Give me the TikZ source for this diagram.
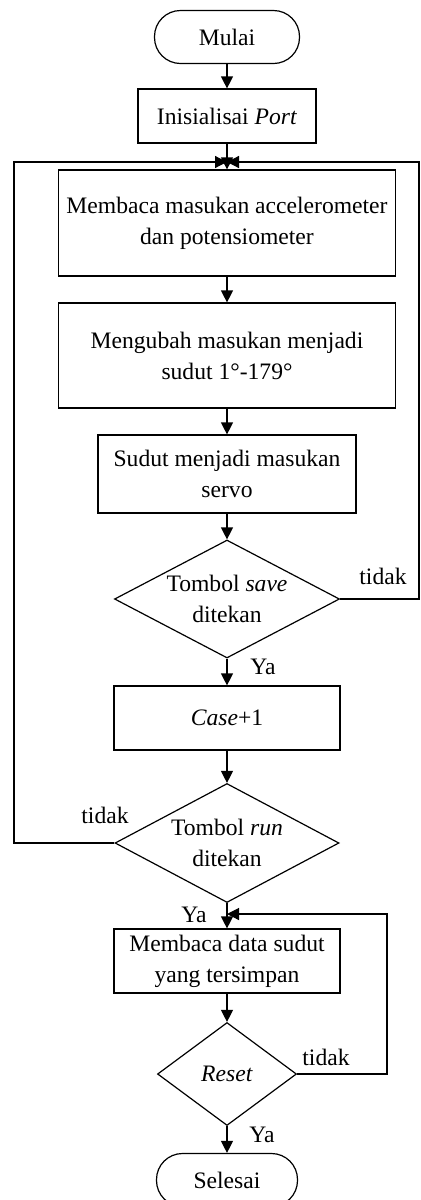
\documentclass[tikz,border=0pt]{standalone}
\usepackage{fontspec}
\setmainfont{Liberation Serif}
\usetikzlibrary{shapes.geometric,arrows.meta}

\tikzset{
  box/.style={draw, line width=0.6pt, align=center, inner sep=2pt},
  term/.style={box, rounded corners=13pt},
  choice/.style={draw, line width=0.6pt, diamond, aspect=1.9, align=center, inner sep=0pt},
  arr/.style={line width=0.6pt, -{Triangle[length=6pt,width=6pt]}},
  wire/.style={line width=0.6pt},
}

\begin{document}
\begin{tikzpicture}[x=0.5pt, y=-0.5pt, font=\fontsize{11.8}{15.5}\selectfont]

    % Fix the page to the size of the reference
    \useasboundingbox (0,0) rectangle (421,1200);

    % Define the steps of the flowchart
    \node[term, minimum width=72.5pt, minimum height=26.5pt] (mulai) at (227,37) {Mulai};
    \node[box, minimum width=89pt, minimum height=27pt] (init) at (227,116) {Inisialisai \textit{Port}};
    \node[box, minimum width=168.5pt, minimum height=53pt] (baca) at (227,223) {Membaca masukan accelerometer\\dan potensiometer};
    \node[box, minimum width=168.5pt, minimum height=52.5pt] (ubah) at (227,355.5) {Mengubah masukan menjadi\\sudut 1°-179°};
    \node[box, minimum width=129pt, minimum height=39pt] (servo) at (227,474) {Sudut menjadi masukan\\servo};
    \node[choice, minimum width=112.5pt, minimum height=59pt] (save) at (227,599) {Tombol \textit{save}\\ditekan};
    \node[box, minimum width=113pt, minimum height=32pt] (case) at (227,718) {\textit{Case}+1};
    \node[choice, minimum width=112pt, minimum height=59.5pt] (run) at (227,843) {Tombol \textit{run}\\ditekan};
    \node[box, minimum width=113pt, minimum height=32pt] (data) at (227,961) {Membaca data sudut\\yang tersimpan};
    \node[choice, aspect=1.35, minimum width=69.5pt, minimum height=51.5pt] (reset) at (227,1074) {\textit{Reset}};
    \node[term, minimum width=70.5pt, minimum height=26.5pt] (selesai) at (227,1180) {Selesai};

    % Define the corners of the loops
    \coordinate (j1) at (227,162);
    \coordinate (j2) at (227,914);
    \coordinate (kiri) at (14,162);
    \coordinate (kanan) at (419,162);
    \coordinate (kanan2) at (387,914);

    % Draw the main flow
    \draw[arr] (mulai) -- (init);
    \draw[arr] (init) -- (baca);
    \draw[arr] (baca) -- (ubah);
    \draw[arr] (ubah) -- (servo);
    \draw[arr] (servo) -- (save);
    \draw[arr] (save) -- (case);
    \draw[arr] (case) -- (run);
    \draw[arr] (run) -- (data);
    \draw[arr] (data) -- (reset);
    \draw[arr] (reset) -- (selesai);

    % Draw the loops back
    \draw[arr] (save.east) -- (save.east -| kanan) -- (kanan) -- (j1);
    \draw[arr] (run.west) -- (run.west -| kiri) -- (kiri) -- (j1);
    \draw[arr] (reset.east) -- (reset.east -| kanan2) -- (kanan2) -- (j2);

    % Add labels for the branches
    \node (tidak1) at (383,576) {tidak};
    \node (ya1) at (263,667) {Ya};
    \node (tidak2) at (105,815) {tidak};
    \node (ya2) at (194,915) {Ya};
    \node (tidak3) at (326,1057) {tidak};
    \node (ya3) at (262,1135) {Ya};

\end{tikzpicture}
\end{document}
